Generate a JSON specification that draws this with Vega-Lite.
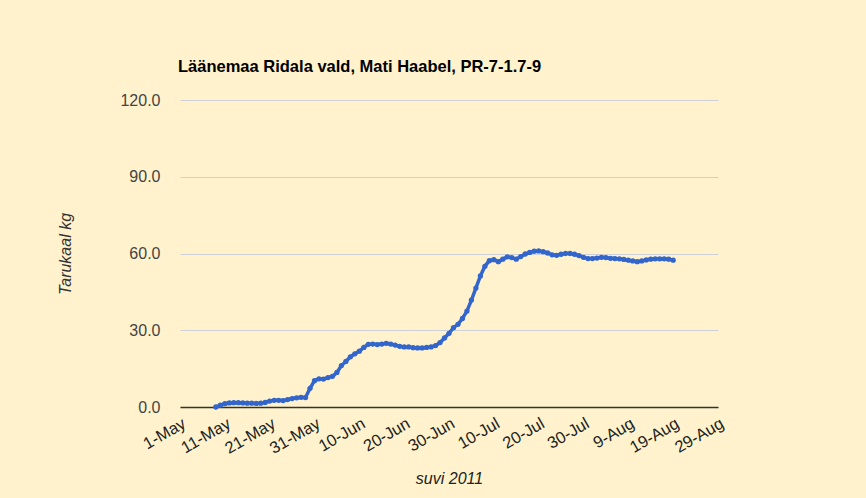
{
  "$schema": "https://vega.github.io/schema/vega-lite/v6.json",
  "width": 538,
  "height": 307,
  "autosize": {"type": "none"},
  "padding": {"left": 180, "top": 100, "right": 148, "bottom": 91},
  "background": "#FFF2CC",
  "title": {
    "text": "Läänemaa Ridala vald, Mati Haabel, PR-7-1.7-9",
    "anchor": "start",
    "frame": "group",
    "font": "Liberation Sans",
    "fontSize": 16.5,
    "fontWeight": "bold",
    "color": "#000000",
    "offset": 17,
    "dx": -2
  },
  "config": {
    "view": {"stroke": null},
    "axis": {"labelFont": "Liberation Sans", "titleFont": "Liberation Sans"}
  },
  "data": {
    "values": [
      {"date": "2011-05-09", "kg": 0.0},
      {"date": "2011-05-10", "kg": 0.7},
      {"date": "2011-05-11", "kg": 1.3},
      {"date": "2011-05-12", "kg": 1.6},
      {"date": "2011-05-13", "kg": 1.7},
      {"date": "2011-05-14", "kg": 1.7},
      {"date": "2011-05-15", "kg": 1.6},
      {"date": "2011-05-16", "kg": 1.5},
      {"date": "2011-05-17", "kg": 1.5},
      {"date": "2011-05-18", "kg": 1.4},
      {"date": "2011-05-19", "kg": 1.5},
      {"date": "2011-05-20", "kg": 1.8},
      {"date": "2011-05-21", "kg": 2.3},
      {"date": "2011-05-22", "kg": 2.6},
      {"date": "2011-05-23", "kg": 2.6},
      {"date": "2011-05-24", "kg": 2.5},
      {"date": "2011-05-25", "kg": 2.9},
      {"date": "2011-05-26", "kg": 3.3},
      {"date": "2011-05-27", "kg": 3.6},
      {"date": "2011-05-28", "kg": 3.8},
      {"date": "2011-05-29", "kg": 3.7},
      {"date": "2011-05-30", "kg": 7.3},
      {"date": "2011-05-31", "kg": 10.3},
      {"date": "2011-06-01", "kg": 11.0},
      {"date": "2011-06-02", "kg": 10.9},
      {"date": "2011-06-03", "kg": 11.5},
      {"date": "2011-06-04", "kg": 12.0},
      {"date": "2011-06-05", "kg": 13.5},
      {"date": "2011-06-06", "kg": 16.2},
      {"date": "2011-06-07", "kg": 17.8},
      {"date": "2011-06-08", "kg": 19.6},
      {"date": "2011-06-09", "kg": 20.8},
      {"date": "2011-06-10", "kg": 21.8},
      {"date": "2011-06-11", "kg": 23.3},
      {"date": "2011-06-12", "kg": 24.5},
      {"date": "2011-06-13", "kg": 24.6},
      {"date": "2011-06-14", "kg": 24.4},
      {"date": "2011-06-15", "kg": 24.6},
      {"date": "2011-06-16", "kg": 24.9},
      {"date": "2011-06-17", "kg": 24.6},
      {"date": "2011-06-18", "kg": 24.2},
      {"date": "2011-06-19", "kg": 23.7},
      {"date": "2011-06-20", "kg": 23.5},
      {"date": "2011-06-21", "kg": 23.5},
      {"date": "2011-06-22", "kg": 23.2},
      {"date": "2011-06-23", "kg": 23.1},
      {"date": "2011-06-24", "kg": 23.1},
      {"date": "2011-06-25", "kg": 23.3},
      {"date": "2011-06-26", "kg": 23.5},
      {"date": "2011-06-27", "kg": 24.0},
      {"date": "2011-06-28", "kg": 25.2},
      {"date": "2011-06-29", "kg": 27.0},
      {"date": "2011-06-30", "kg": 28.8},
      {"date": "2011-07-01", "kg": 31.0},
      {"date": "2011-07-02", "kg": 32.3},
      {"date": "2011-07-03", "kg": 34.6},
      {"date": "2011-07-04", "kg": 37.5},
      {"date": "2011-07-05", "kg": 41.8},
      {"date": "2011-07-06", "kg": 46.5},
      {"date": "2011-07-07", "kg": 51.2},
      {"date": "2011-07-08", "kg": 55.0},
      {"date": "2011-07-09", "kg": 57.2},
      {"date": "2011-07-10", "kg": 57.6},
      {"date": "2011-07-11", "kg": 56.8},
      {"date": "2011-07-12", "kg": 57.8},
      {"date": "2011-07-13", "kg": 58.7},
      {"date": "2011-07-14", "kg": 58.4},
      {"date": "2011-07-15", "kg": 57.8},
      {"date": "2011-07-16", "kg": 58.8},
      {"date": "2011-07-17", "kg": 59.8},
      {"date": "2011-07-18", "kg": 60.4},
      {"date": "2011-07-19", "kg": 60.9},
      {"date": "2011-07-20", "kg": 61.0},
      {"date": "2011-07-21", "kg": 60.7},
      {"date": "2011-07-22", "kg": 60.2},
      {"date": "2011-07-23", "kg": 59.5},
      {"date": "2011-07-24", "kg": 59.3},
      {"date": "2011-07-25", "kg": 59.7},
      {"date": "2011-07-26", "kg": 60.0},
      {"date": "2011-07-27", "kg": 60.0},
      {"date": "2011-07-28", "kg": 59.7},
      {"date": "2011-07-29", "kg": 59.2},
      {"date": "2011-07-30", "kg": 58.5},
      {"date": "2011-07-31", "kg": 58.0},
      {"date": "2011-08-01", "kg": 58.0},
      {"date": "2011-08-02", "kg": 58.2},
      {"date": "2011-08-03", "kg": 58.5},
      {"date": "2011-08-04", "kg": 58.4},
      {"date": "2011-08-05", "kg": 58.1},
      {"date": "2011-08-06", "kg": 58.0},
      {"date": "2011-08-07", "kg": 57.9},
      {"date": "2011-08-08", "kg": 57.7},
      {"date": "2011-08-09", "kg": 57.4},
      {"date": "2011-08-10", "kg": 57.1},
      {"date": "2011-08-11", "kg": 56.8},
      {"date": "2011-08-12", "kg": 57.1},
      {"date": "2011-08-13", "kg": 57.5},
      {"date": "2011-08-14", "kg": 57.8},
      {"date": "2011-08-15", "kg": 57.9},
      {"date": "2011-08-16", "kg": 57.9},
      {"date": "2011-08-17", "kg": 57.9},
      {"date": "2011-08-18", "kg": 57.8},
      {"date": "2011-08-19", "kg": 57.4}
    ]
  },
  "mark": {
    "type": "line",
    "color": "#3366CC",
    "strokeWidth": 3.5,
    "point": {"filled": true, "size": 28, "color": "#3366CC"}
  },
  "encoding": {
    "x": {
      "field": "date",
      "type": "temporal",
      "scale": {
        "type": "utc",
        "domain": [
          {"year": 2011, "month": 5, "date": 1, "utc": true},
          {"year": 2011, "month": 8, "date": 29, "utc": true}
        ]
      },
      "axis": {
        "title": "suvi 2011",
        "titleFontStyle": "italic",
        "titleFontWeight": "normal",
        "titleFontSize": 16,
        "titleColor": "#222222",
        "titleX": 269,
        "titleY": 71,
        "titleBaseline": "middle",
        "values": [
          {"year": 2011, "month": 5, "date": 1, "utc": true},
          {"year": 2011, "month": 5, "date": 11, "utc": true},
          {"year": 2011, "month": 5, "date": 21, "utc": true},
          {"year": 2011, "month": 5, "date": 31, "utc": true},
          {"year": 2011, "month": 6, "date": 10, "utc": true},
          {"year": 2011, "month": 6, "date": 20, "utc": true},
          {"year": 2011, "month": 6, "date": 30, "utc": true},
          {"year": 2011, "month": 7, "date": 10, "utc": true},
          {"year": 2011, "month": 7, "date": 20, "utc": true},
          {"year": 2011, "month": 7, "date": 30, "utc": true},
          {"year": 2011, "month": 8, "date": 9, "utc": true},
          {"year": 2011, "month": 8, "date": 19, "utc": true},
          {"year": 2011, "month": 8, "date": 29, "utc": true}
        ],
        "format": "%-d-%b",
        "labelAngle": -30,
        "labelAlign": "right",
        "labelBaseline": "top",
        "labelFontSize": 16.5,
        "labelColor": "#222222",
        "labelPadding": 8,
        "labelDx": 4,
        "labelOverlap": false,
        "labelBound": false,
        "labelFlush": false,
        "ticks": false,
        "grid": false,
        "domain": true,
        "domainColor": "#333333",
        "domainWidth": 1.5
      }
    },
    "y": {
      "field": "kg",
      "type": "quantitative",
      "scale": {"domain": [0, 120], "nice": false},
      "axis": {
        "title": "Tarukaal kg",
        "titleFontStyle": "italic",
        "titleFontWeight": "normal",
        "titleFontSize": 16,
        "titleColor": "#333333",
        "titleX": -115,
        "titleY": 153.5,
        "titleAngle": -90,
        "titleAlign": "center",
        "titleBaseline": "middle",
        "values": [0, 30, 60, 90, 120],
        "format": ".1f",
        "labelFontSize": 16,
        "labelColor": "#444444",
        "labelPadding": 20,
        "ticks": false,
        "domain": false,
        "grid": true,
        "gridColor": "#CDD0D8",
        "gridWidth": 1.2
      }
    }
  }
}
